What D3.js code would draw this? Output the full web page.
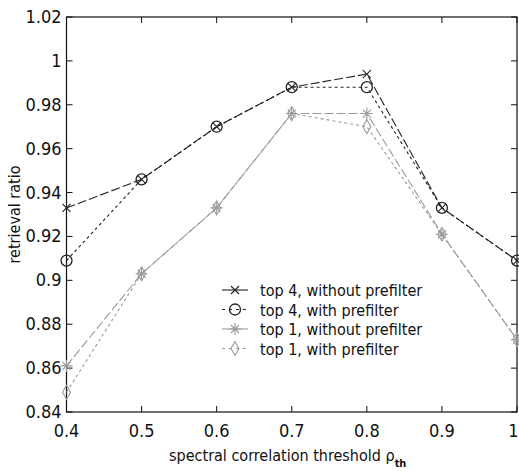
<!DOCTYPE html>
<html>
<head>
<meta charset="utf-8">
<script src="https://cdn.jsdelivr.net/npm/d3@7"></script>
<style>
  html, body { margin: 0; padding: 0; background: #fff; overflow: hidden; }
  svg { display: block; }
  text { font-family: "Liberation Sans Narrow", "Arial Narrow", "DejaVu Sans Condensed", sans-serif; fill: #111; }
</style>
</head>
<body>
<div id="chart"></div>
<script>
// thresholds on the x axis
const thresholds = [0.4, 0.5, 0.6, 0.7, 0.8, 0.9, 1.0]
const xTicks = ['0.4', '0.5', '0.6', '0.7', '0.8', '0.9', '1']
const yTicks = [0.84, 0.86, 0.88, 0.9, 0.92, 0.94, 0.96, 0.98, 1, 1.02]

// retrieval ratio for each curve
const top4Without = [0.933, 0.946, 0.970, 0.988, 0.994, 0.933, 0.909]
const top4With    = [0.909, 0.946, 0.970, 0.988, 0.988, 0.933, 0.909]
const top1Without = [0.861, 0.903, 0.933, 0.976, 0.976, 0.921, 0.873]
const top1With    = [0.849, 0.903, 0.933, 0.976, 0.970, 0.921, 0.873]

const seriesNames = ['top 4, without prefilter', 'top 4, with prefilter',
    'top 1, without prefilter', 'top 1, with prefilter']

const width = 519, height = 473
const margin = {top: 17, right: 2, bottom: 61, left: 66.5}

const svg = d3.select('#chart').append('svg')
    .attr('width', width)
    .attr('height', height)

const innerWidth = width - margin.left - margin.right
const innerHeight = height - margin.top - margin.bottom

const g = svg.append('g')
    .attr('transform', 'translate(' + margin.left + ',' + margin.top + ')')

const x = d3.scaleLinear().domain([0.4, 1.0]).range([0, innerWidth])
const y = d3.scaleLinear().domain([0.84, 1.02]).range([innerHeight, 0])

// box and inward ticks on all sides
const tickLen = 6
const axisG = g.append('g').attr('class', 'axes')

axisG.append('rect')
    .attr('width', innerWidth).attr('height', innerHeight)
    .attr('fill', 'none').attr('stroke', '#111').attr('stroke-width', 1.2)

thresholds.forEach(function (t, i) {
    const px = x(t)
    const last = i === thresholds.length - 1
    axisG.append('line').attr('x1', px).attr('x2', px)
        .attr('y1', innerHeight).attr('y2', innerHeight - tickLen)
        .attr('stroke', '#111')
    axisG.append('line').attr('x1', px).attr('x2', px)
        .attr('y1', 0).attr('y2', tickLen)
        .attr('stroke', '#111')
    // the last label sits right at the page edge, keep it inside
    axisG.append('text')
        .attr('x', last ? px + 1.5 : px).attr('y', innerHeight + 25)
        .attr('text-anchor', last ? 'end' : 'middle')
        .style('font-size', '18px')
        .text(xTicks[i])
})

yTicks.forEach(function (v) {
    const py = y(v)
    axisG.append('line').attr('x1', 0).attr('x2', tickLen)
        .attr('y1', py).attr('y2', py).attr('stroke', '#111')
    axisG.append('line').attr('x1', innerWidth).attr('x2', innerWidth - tickLen)
        .attr('y1', py).attr('y2', py).attr('stroke', '#111')
    axisG.append('text')
        .attr('x', -5).attr('y', py + 6)
        .attr('text-anchor', 'end')
        .style('font-size', '18px')
        .text(d3.format('')(v))
})

// axis titles
svg.append('text')
    .attr('transform', 'translate(20,' + (margin.top + innerHeight / 2) + ') rotate(-90)')
    .attr('text-anchor', 'middle')
    .style('font-size', '16px')
    .text('retrieval ratio')

const xLabel = svg.append('text')
    .attr('x', margin.left + innerWidth / 2 - 4).attr('y', 461)
    .attr('text-anchor', 'middle')
    .style('font-size', '16px')
xLabel.append('tspan').text('spectral correlation threshold \u03c1')
xLabel.append('tspan').attr('dy', 6).style('font-size', '11px').style('font-weight', 'bold').text('th')

// series styling
const dark = '#222', gray = '#9a9a9a'
const seriesList = [
    {values: top4Without, color: dark, dash: '9,3', marker: 'x'},
    {values: top4With, color: dark, dash: '3,3', marker: 'circle'},
    {values: top1Without, color: gray, dash: '9,3', marker: 'star'},
    {values: top1With, color: gray, dash: '3,3', marker: 'diamond'}
]

const line = d3.line()
    .x((d, i) => x(thresholds[i]))
    .y(d => y(d))

function drawMarker(sel, type, color) {
    if (type === 'x') {
        sel.append('path').attr('d', 'M-4,-4L4,4M-4,4L4,-4')
            .attr('stroke', color).attr('stroke-width', 1.1).attr('fill', 'none')
    } else if (type === 'circle') {
        sel.append('circle').attr('r', 5.5)
            .attr('stroke', color).attr('stroke-width', 1.3).attr('fill', 'none')
    } else if (type === 'star') {
        sel.append('path').attr('d', 'M-6,0L6,0M0,-6L0,6M-4,-4L4,4M-4,4L4,-4')
            .attr('stroke', color).attr('stroke-width', 1.1).attr('fill', 'none')
    } else if (type === 'diamond') {
        sel.append('path').attr('d', 'M0,-7L4,0L0,7L-4,0Z')
            .attr('stroke', color).attr('stroke-width', 1.1).attr('fill', 'none')
    }
}

const seriesG = g.selectAll('g.series').data(seriesList).join('g')
    .attr('class', 'series')

seriesG.append('path')
    .attr('d', d => line(d.values))
    .attr('fill', 'none')
    .attr('stroke', d => d.color)
    .attr('stroke-width', 1.1)
    .attr('stroke-dasharray', d => d.dash)

seriesG.each(function (s) {
    d3.select(this).selectAll('g.pt').data(s.values).join('g')
        .attr('class', 'pt')
        .attr('transform', (d, i) => 'translate(' + x(thresholds[i]) + ',' + y(d) + ')')
        .each(function () { drawMarker(d3.select(this), s.marker, s.color) })
})

// legend
const legend = svg.append('g').attr('transform', 'translate(222,290)')
seriesList.forEach(function (s, i) {
    const row = legend.append('g').attr('transform', 'translate(0,' + (i * 19.5) + ')')
    row.append('line').attr('x1', 0).attr('x2', 26).attr('y1', 0).attr('y2', 0)
        .attr('stroke', s.color).attr('stroke-width', 1.1)
        .attr('stroke-dasharray', s.dash === '3,3' ? '3,4' : null)
    drawMarker(row.append('g').attr('transform', 'translate(13,0)'), s.marker, s.color)
    row.append('text').attr('x', 38).attr('y', 6)
        .style('font-size', '16px')
        .text(seriesNames[i])
})
</script>
</body>
</html>
